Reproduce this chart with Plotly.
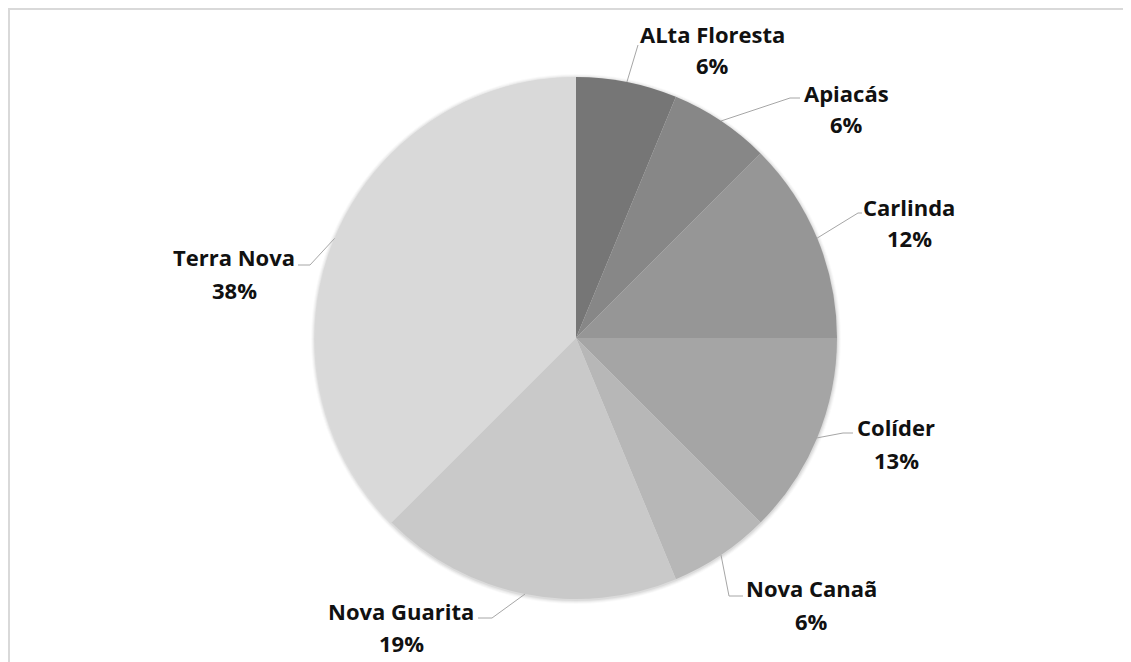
import math
import plotly.graph_objects as go

# ---- data ----
categories = ["ALta Floresta", "Apiacás", "Carlinda", "Colíder", "Nova Canaã", "Nova Guarita", "Terra Nova"]
values = [6.25, 6.25, 12.5, 12.5, 6.25, 18.75, 37.5]
pct_labels = ["6%", "6%", "12%", "13%", "6%", "19%", "38%"]

# ---- style / layout ----
colors = ["#767676", "#878787", "#969696", "#a5a5a5", "#b7b7b7", "#c9c9c9", "#d9d9d9"]
W, H = 1131, 662
OFFX, OFFY = 8, 8          # page offset of the figure inside the browser window
CX, CY, R = 576, 338, 261  # pie centre / radius in window pixels
# label text centre (x, name y, pct y), elbow point, stub end (window pixels)
label_pos = [(712, 34, 65), (846, 93, 124), (909, 207, 238), (896, 427, 460),
             (811, 588, 621), (401, 611, 643), (234, 257, 290)]
elbows = [(638, 45), (790, 98), (858, 213), (843, 433), (729, 596), (492, 618), (310, 265)]
stubs = [(638, 45), (800, 98), (862, 213), (853, 433), (743, 596), (478, 618), (298, 265)]
FONT = dict(family="Open Sans", size=22, color="#111111")

fig = go.Figure()

# shadow
shapes = []
for i, a in enumerate([0.05, 0.04, 0.03, 0.02]):
    r = R + 1 + i
    shapes.append(dict(type="circle", xref="x", yref="y", x0=CX - r, x1=CX + r, y0=CY - r + 1, y1=CY + r + 1,
                       line=dict(width=0), fillcolor=f"rgba(0,0,0,{a})", layer="below"))
# border (top and left edges of the chart frame)
shapes.append(dict(type="line", xref="x", yref="y", x0=8, x1=W + OFFX, y0=9, y1=9,
                   line=dict(color="#d9d9d9", width=2)))
shapes.append(dict(type="line", xref="x", yref="y", x0=9, x1=9, y0=8, y1=H + OFFY,
                   line=dict(color="#d9d9d9", width=2)))

fig.add_trace(go.Pie(
    labels=categories, values=values, sort=False, direction="clockwise", rotation=0,
    marker=dict(colors=colors, line=dict(width=0)), textinfo="none", hoverinfo="label+percent",
    showlegend=False,
    domain=dict(x=[(CX - OFFX - R) / W, (CX - OFFX + R) / W],
                y=[1 - (CY - OFFY + R) / H, 1 - (CY - OFFY - R) / H]),
))

total = sum(values)
cum = 0.0
annotations = []
for i, v in enumerate(values):
    theta = math.radians((cum + v / 2) / total * 360)
    cum += v
    sx, sy = CX + R * math.sin(theta), CY - R * math.cos(theta)
    ex, ey = elbows[i]
    tx, ty = stubs[i]
    fig.add_trace(go.Scatter(x=[sx, ex, tx], y=[sy, ey, ty], mode="lines",
                             line=dict(color="#a6a6a6", width=1), hoverinfo="skip", showlegend=False))
    lx, ly1, ly2 = label_pos[i]
    annotations.append(dict(x=lx, y=ly1, xref="x", yref="y", text=f"<b>{categories[i]}</b>",
                            showarrow=False, font=FONT, xanchor="center", yanchor="middle"))
    annotations.append(dict(x=lx, y=ly2, xref="x", yref="y", text=f"<b>{pct_labels[i]}</b>",
                            showarrow=False, font=FONT, xanchor="center", yanchor="middle"))

fig.update_layout(
    width=W, height=H, margin=dict(l=0, r=0, t=0, b=0),
    paper_bgcolor="white", plot_bgcolor="rgba(0,0,0,0)",
    xaxis=dict(range=[OFFX, W + OFFX], visible=False, domain=[0, 1], fixedrange=True),
    yaxis=dict(range=[H + OFFY, OFFY], visible=False, domain=[0, 1], fixedrange=True),
    shapes=shapes, annotations=annotations,
)

fig.write_html("out.html")
